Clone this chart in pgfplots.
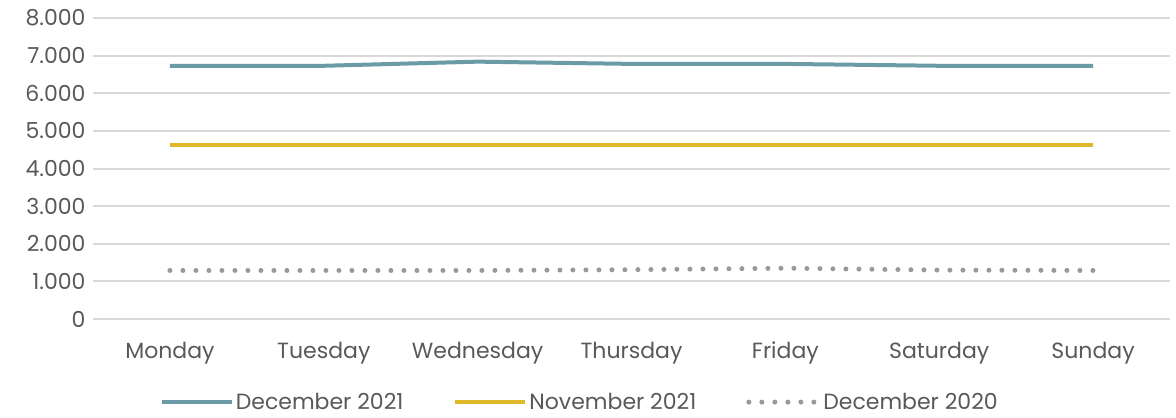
\documentclass[border=0pt]{standalone}
\usepackage{fontspec}
\setmainfont{Poppins}
\usepackage{pgfplots}
\pgfplotsset{compat=1.18}
\definecolor{dec21}{HTML}{6A9BA6}
\definecolor{nov21}{HTML}{E0B92B}
\definecolor{dec20}{HTML}{999999}
\definecolor{gridc}{HTML}{D9D9D9}
\definecolor{txt}{HTML}{595959}
\begin{document}
\begin{tikzpicture}
\useasboundingbox (0,0) rectangle (1176bp,418bp);
\begin{axis}[
    at={(93bp,99bp)}, anchor=south west,
    scale only axis,
    width=1077bp, height=301bp,
    xmin=-0.5, xmax=6.5,
    ymin=0, ymax=8000,
    xtick={0,...,6},
    xticklabels={Monday,Tuesday,Wednesday,Thursday,Friday,Saturday,Sunday},
    ytick={0,1000,...,8000},
    scaled y ticks=false,
    /pgf/number format/.cd, 1000 sep={.}, assume math mode=true,
    /pgfplots/.cd,
    axis line style={draw=none},
    major tick length=0pt,
    ymajorgrids,
    grid style={gridc, line width=2bp},
    tick label style={font=\fontsize{22bp}{26bp}\selectfont, text=txt},
    xticklabel style={yshift=-20bp, text height=16bp, text depth=5bp},
    yticklabel style={xshift=-4bp},
    legend style={at={(0.452,-0.276)}, anchor=center, draw=none,
        font=\fontsize{22bp}{26bp}\selectfont, text=txt,
        column sep=0bp, /tikz/every even column/.append style={column sep=48bp}},
    legend columns=3,
    legend cell align=left,
    legend image code/.code={\draw[#1] (0bp,0bp) -- (70bp,0bp);},
    clip=false,
]
\addplot[dec21, line width=4bp] coordinates {
    (0,6730)(1,6730)(2,6840)(3,6780)(4,6780)(5,6730)(6,6730)};
\addplot[nov21, line width=4bp] coordinates {
    (0,4620)(1,4620)(2,4620)(3,4620)(4,4620)(5,4620)(6,4620)};
\addplot[dec20, line width=5bp, line cap=round, dash pattern=on 0bp off 13bp] coordinates {
    (0,1290)(1,1290)(2,1290)(3,1310)(4,1350)(5,1300)(6,1290)};
\legend{December 2021, November 2021, December 2020}
\end{axis}
\end{tikzpicture}
\end{document}
